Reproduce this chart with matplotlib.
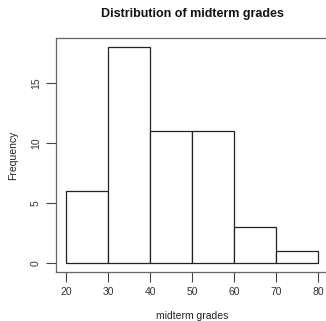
import matplotlib
matplotlib.use("Agg")
import matplotlib.pyplot as plt

# histogram of midterm grades (bins of width 10)
bin_edges = [20, 30, 40, 50, 60, 70, 80]
counts = [6, 18, 11, 11, 3, 1]
x_ticks = [20, 30, 40, 50, 60, 70, 80]
y_ticks = [0, 5, 10, 15]

plt.rcParams['font.family'] = ['Liberation Sans', 'DejaVu Sans']

W, H = 326, 321
fig = plt.figure(figsize=(W / 100, H / 100), dpi=100)
# plot region in pixels: left 56, right 328, top 38, bottom 272
ax = fig.add_axes([56 / W, (H - 272) / H, (328 - 56) / W, (272 - 38) / H])

lefts = bin_edges[:-1]
widths = [b - a for a, b in zip(bin_edges[:-1], bin_edges[1:])]
ax.bar(lefts, counts, width=widths, align='edge', color='white',
       edgecolor='#222222', linewidth=0.9)

ax.set_xlim(17.6, 82.4)
ax.set_ylim(-0.72, 18.72)
ax.set_xticks(x_ticks)
ax.set_yticks(y_ticks)

for s in ax.spines.values():
    s.set_color('#666666')
    s.set_linewidth(0.9)

ax.tick_params(axis='x', length=7, width=0.8, color='#444444', labelsize=7.5,
               labelcolor='#333333', pad=4)
ax.tick_params(axis='y', length=7, width=0.8, color='#444444', labelsize=7.5,
               labelcolor='#333333', pad=4, labelrotation=90)
for lab in ax.get_yticklabels():
    lab.set_verticalalignment('center')

fig.text(192 / W, 1 - 14 / H, "Distribution of midterm grades", ha='center',
         va='center', fontsize=9, fontweight='bold', color='#111111')
fig.text(192 / W, 1 - 316 / H, "midterm grades", ha='center', va='center',
         fontsize=7.5, color='#222222')
fig.text(13 / W, 1 - 155 / H, "Frequency", ha='center', va='center',
         rotation=90, fontsize=7.5, color='#222222')

fig.savefig("out.png", dpi=100)
